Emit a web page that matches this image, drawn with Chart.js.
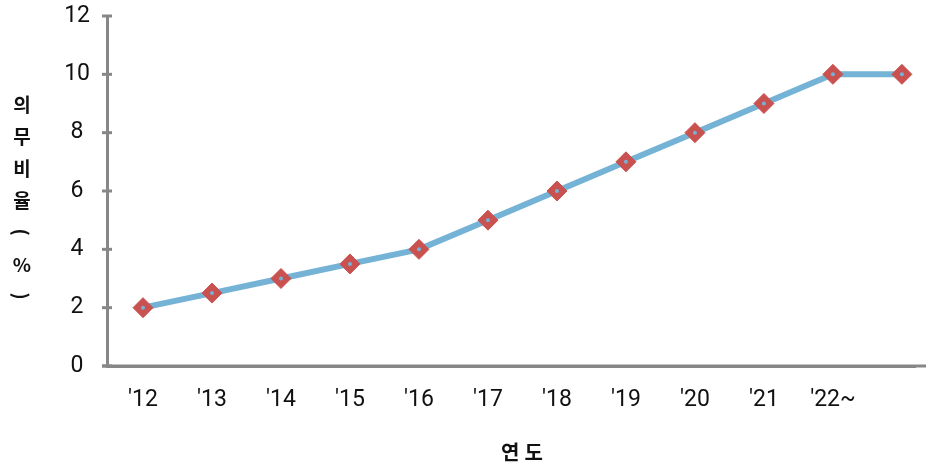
<!DOCTYPE html>
<html>
<head>
<meta charset="utf-8">
<script src="https://cdn.jsdelivr.net/npm/chart.js@4"></script>
<style>
  html, body { margin: 0; background: #fff; overflow: hidden; }
  #wrap { position: relative; width: 926px; height: 467px; overflow: hidden; }
  #myChart { display: block; }
  .title {
    position: absolute; font-family: 'Noto Sans CJK KR', sans-serif; font-weight: bold;
    color: #111;
  }
  #ytitle { left: 8px; top: 88px; width: 28px; font-size: 19px; text-align: center; line-height: 32px; }
  #ytitle span { display: block; }
  #ytitle .rot { transform: rotate(90deg); }
  #xtitle { left: 472px; width: 100px; top: 437px; font-size: 20px; line-height: 30px; text-align: center; letter-spacing: 5px; text-indent: 5px; }
</style>
</head>
<body>
<div id="wrap">
  <canvas id="myChart"></canvas>
  <div id="ytitle" class="title"><span>의</span><span>무</span><span>비</span><span>율</span><span class="rot">(</span><span>%</span><span class="rot">)</span></div>
  <div id="xtitle" class="title">연도</div>
</div>
<script>
var years = ["'12", "'13", "'14", "'15", "'16", "'17", "'18", "'19", "'20", "'21", "'22~", ""];
var ratio = [2, 2.5, 3, 3.5, 4, 5, 6, 7, 8, 9, 10, 10];
var yTicks = [0, 2, 4, 6, 8, 10, 12];

var points = ratio.map(function (v, i) { return { x: i, y: v }; });
var axisGray = '#878787';

// tick marks crossing the y axis, and the x axis line run out to the edge
var axisExtras = {
  id: 'axisExtras',
  afterDraw: function (chart) {
    var y = chart.scales.y;
    var c = chart.ctx;
    var x0 = y.right;
    c.save();
    c.strokeStyle = axisGray;
    c.lineWidth = 3;
    y.ticks.forEach(function (t) {
      var py = y.getPixelForValue(t.value);
      var major = yTicks.indexOf(t.value) >= 0;
      c.beginPath();
      c.moveTo(x0 - (major ? 5 : 2), py);
      c.lineTo(x0 + (major ? 5 : 2), py);
      c.stroke();
    });
    var base = chart.scales.x.top;
    c.beginPath();
    c.moveTo(x0 - 5, base);
    c.lineTo(chart.width, base);
    c.stroke();
    c.restore();
  }
};

var ctx = document.getElementById('myChart').getContext('2d');
var myChart = new Chart(ctx, {
  type: 'line',
  data: {
    datasets: [{
      label: '의무비율',
      data: points,
      order: 1,
      borderColor: '#74B3D6',
      borderWidth: 6,
      pointStyle: 'rectRot',
      pointRadius: 10,
      pointBackgroundColor: '#C9514F',
      pointBorderColor: '#C9514F',
      pointBorderWidth: 1,
      tension: 0
    }, {
      label: 'dot',
      data: points,
      order: 0,
      showLine: false,
      pointRadius: 2,
      pointBackgroundColor: '#74B3D6',
      pointBorderWidth: 0
    }]
  },
  options: {
    responsive: true,
    maintainAspectRatio: false,
    animation: false,
    layout: { padding: { top: 16, left: 0, right: 0, bottom: 0 } },
    plugins: {
      legend: { display: false },
      tooltip: { enabled: false }
    },
    scales: {
      x: {
        type: 'linear',
        min: -0.522,
        max: 11.19,
        afterFit: function (s) { s.height = 101; s.paddingLeft = 0; s.paddingRight = 0; },
        border: { display: true, color: axisGray, width: 3 },
        grid: { display: false, drawTicks: false },
        ticks: {
          stepSize: 1,
          includeBounds: false,
          autoSkip: false,
          maxRotation: 0,
          padding: 20,
          color: '#111',
          font: { family: 'Roboto', size: 23 },
          callback: function (v) { return Number.isInteger(v) && years[v] !== undefined ? years[v] : ''; }
        }
      },
      y: {
        min: 0,
        max: 12,
        afterFit: function (s) { s.width = 107; s.paddingTop = 0; s.paddingBottom = 0; },
        border: { display: true, color: axisGray, width: 3 },
        grid: { drawOnChartArea: false, drawTicks: false },
        ticks: {
          stepSize: 1,
          crossAlign: 'center',
          padding: 17,
          color: '#111',
          font: { family: 'Roboto', size: 23 },
          callback: function (v) { return yTicks.indexOf(v) >= 0 ? String(v) : ''; }
        }
      }
    }
  },
  plugins: [axisExtras]
});
</script>
</body>
</html>
